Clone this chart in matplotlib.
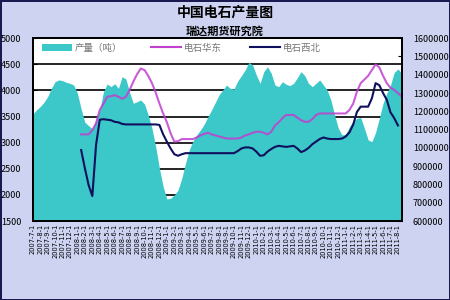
import numpy as np
import pandas as pd
import matplotlib
matplotlib.use('Agg')
import matplotlib.pyplot as plt
from matplotlib.patches import Patch
from matplotlib.lines import Line2D
from matplotlib.ticker import FuncFormatter

plt.rcParams['font.family'] = ['Noto Sans CJK SC', 'DejaVu Sans']

# 产量（吨）, 半月数据
chanliang = [1184000, 1208000, 1226000, 1249000, 1280000, 1326000, 1362000, 1372000, 1368000, 1359000,
             1353000, 1344000, 1299000, 1213000, 1140000, 1122000, 1104000, 1158000, 1208000, 1308000,
             1350000, 1335000, 1351000, 1326000, 1390000, 1377000, 1304000, 1244000, 1253000, 1262000,
             1240000, 1180000, 1107000, 1007000, 889000, 788000, 721000, 725000, 743000, 770000,
             834000, 916000, 989000, 1038000, 1071000, 1098000, 1129000, 1171000, 1208000, 1249000,
             1290000, 1317000, 1344000, 1326000, 1322000, 1366000, 1395000, 1426000, 1468000, 1454000,
             1399000, 1353000, 1417000, 1444000, 1408000, 1344000, 1335000, 1362000, 1348000, 1341000,
             1353000, 1384000, 1417000, 1395000, 1353000, 1335000, 1353000, 1372000, 1344000, 1317000,
             1262000, 1180000, 1107000, 1071000, 1075000, 1116000, 1147000, 1162000, 1166000, 1107000,
             1044000, 1034000, 1085000, 1162000, 1244000, 1299000, 1344000, 1413000, 1432000, 1408000]

# 电石华东 (元/吨), 从第14个点开始
huadong = [3160, 3160, 3160, 3240, 3370, 3630, 3750, 3880, 3890, 3910,
           3880, 3840, 3880, 4010, 4170, 4310, 4420, 4390, 4280, 4140,
           3960, 3750, 3560, 3390, 3180, 3020, 3030, 3070, 3070, 3070,
           3070, 3100, 3140, 3170, 3190, 3160, 3140, 3120, 3100, 3080,
           3080, 3080, 3080, 3100, 3140, 3160, 3190, 3210, 3210, 3190,
           3160, 3210, 3330, 3390, 3470, 3530, 3530, 3530, 3480, 3430,
           3400, 3400, 3450, 3530, 3560, 3560, 3560, 3560, 3560, 3560,
           3560, 3560, 3630, 3750, 3980, 4140, 4210, 4280, 4390, 4500,
           4440, 4280, 4140, 4050, 4010, 3950, 3880]

# 电石西北 (元/吨)
xibei = [2860, 2510, 2190, 1980, 2960, 3440, 3450, 3440, 3430, 3400,
         3390, 3360, 3350, 3350, 3350, 3350, 3350, 3350, 3350, 3350,
         3350, 3340, 3160, 3020, 2890, 2780, 2750, 2780, 2800, 2800,
         2800, 2800, 2800, 2800, 2800, 2800, 2800, 2800, 2800, 2800,
         2800, 2800, 2840, 2890, 2910, 2910, 2890, 2830, 2750, 2760,
         2830, 2880, 2920, 2940, 2930, 2920, 2930, 2940, 2890, 2820,
         2850, 2900, 2970, 3020, 3070, 3100, 3080, 3070, 3070, 3070,
         3080, 3120, 3200, 3350, 3590, 3690, 3690, 3690, 3850, 4140,
         4100, 3950, 3820, 3580, 3470, 3330]

start_idx = 13
yue = pd.date_range('2007-07-01', periods=50, freq='MS')
tick_labels = [f'{d.year}-{d.month}-1' for d in yue]

teal = '#3CC8C8'
magenta = '#C040D0'
navy = '#10105E'
bg = '#CDD3F0'

fig = plt.figure(figsize=(4.5, 3), dpi=100)
fig.patch.set_facecolor(bg)
fig.patch.set_edgecolor('#1A1A50')
fig.patch.set_linewidth(2)

rect = [32.7 / 450, 1 - 221.1 / 300, 369 / 450, (221.1 - 38.2) / 300]
ax = fig.add_axes(rect)
ax.set_facecolor('white')
ax2 = ax.twinx()
ax3 = ax.twinx()

x = np.arange(len(chanliang))
x_line1 = np.arange(start_idx, start_idx + len(huadong))
x_line2 = np.arange(start_idx, start_idx + len(xibei))

# 网格线（在面积图下面）
for v in range(2000, 5000, 500):
    ax.axhline(v, color='black', lw=1.2, zorder=1)
ax.set_ylim(1500, 5000)
ax.set_yticks(range(1500, 5001, 500))
ax.set_xlim(0, len(chanliang) - 1)

ax2.fill_between(x, 600000, chanliang, color=teal, lw=0, zorder=2)
ax2.set_ylim(600000, 1600000)
ax2.set_yticks(range(600000, 1600001, 100000))
ax2.yaxis.set_major_formatter(FuncFormatter(lambda v, p: f'{int(v)}'))

ax3.plot(x_line1, huadong, color=magenta, lw=1.5, alpha=0.85)
ax3.plot(x_line2, xibei, color=navy, lw=1.5)
ax3.set_ylim(1500, 5000)
ax3.set_yticks([])

ax.set_xticks(np.arange(0, len(chanliang), 2))
ax.set_xticklabels(tick_labels, rotation=90, fontsize=4.8, family='DejaVu Sans')
ax.tick_params(axis='x', direction='in', length=2, pad=2)
ax.tick_params(axis='y', direction='in', length=3, pad=8, labelsize=6.5)
ax2.tick_params(axis='y', direction='in', length=3, pad=8, labelsize=6.5)
for a in (ax, ax2, ax3):
    for s in a.spines.values():
        s.set_color('black')
        s.set_linewidth(1.2)

handles = [Patch(facecolor=teal, edgecolor='none'),
           Line2D([], [], color=magenta, lw=1.5),
           Line2D([], [], color=navy, lw=1.5)]
leg = ax3.legend(handles, ['产量（吨）', '电石华东', '电石西北'], ncol=3,
                 loc='upper left', bbox_to_anchor=(0.0, 1.02), fontsize=6.8,
                 frameon=True, facecolor='white', edgecolor='none', framealpha=1,
                 fancybox=False, handlelength=3.2, handleheight=0.9,
                 columnspacing=3.0, borderpad=0.45, handletextpad=0.3)
for t in leg.get_texts():
    t.set_color('#777777')

fig.text(0.5, 1 - 13 / 300, '中国电石产量图', ha='center', va='center',
         fontsize=10, fontweight='bold')
fig.text(0.5, 1 - 31 / 300, '瑞达期货研究院', ha='center', va='center',
         fontsize=8, fontweight='bold')

fig.savefig('out.png', dpi=100, facecolor=fig.get_facecolor(), edgecolor=fig.get_edgecolor())
